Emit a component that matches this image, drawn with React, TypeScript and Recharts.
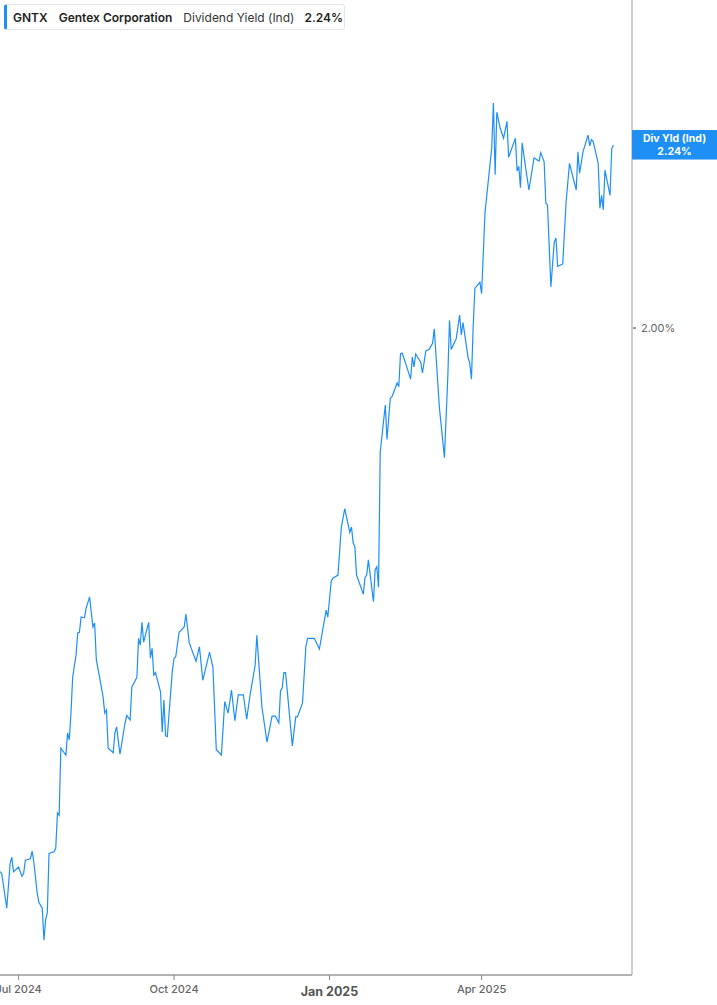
import React from "react";
import { LineChart, Line, XAxis, YAxis } from "recharts";

const DATES: string[] = [
  "2024-06-20","2024-06-21","2024-06-24","2024-06-26","2024-06-27","2024-06-28","2024-07-01","2024-07-03","2024-07-04","2024-07-05",
  "2024-07-08","2024-07-09","2024-07-10","2024-07-12","2024-07-13","2024-07-15","2024-07-16","2024-07-17","2024-07-18","2024-07-19",
  "2024-07-22","2024-07-23","2024-07-24","2024-07-25","2024-07-26","2024-07-29","2024-07-30","2024-07-31","2024-08-01","2024-08-02",
  "2024-08-04","2024-08-05","2024-08-06","2024-08-07","2024-08-09","2024-08-10","2024-08-12","2024-08-14","2024-08-15","2024-08-16",
  "2024-08-19","2024-08-20","2024-08-21","2024-08-22","2024-08-23","2024-08-26","2024-08-27","2024-08-28","2024-08-30","2024-09-02",
  "2024-09-03","2024-09-05","2024-09-06","2024-09-09","2024-09-10","2024-09-11","2024-09-12","2024-09-13","2024-09-16","2024-09-17",
  "2024-09-18","2024-09-19","2024-09-20","2024-09-23","2024-09-24","2024-09-25","2024-09-26","2024-09-27","2024-09-30","2024-10-01",
  "2024-10-02","2024-10-04","2024-10-07","2024-10-08","2024-10-10","2024-10-14","2024-10-16",
  "2024-10-18","2024-10-22","2024-10-24","2024-10-26","2024-10-29","2024-10-31","2024-11-02","2024-11-04","2024-11-06","2024-11-08","2024-11-11",
  "2024-11-13","2024-11-15","2024-11-18","2024-11-19","2024-11-22","2024-11-25","2024-11-28","2024-11-30","2024-12-02","2024-12-03",
  "2024-12-04","2024-12-05","2024-12-06","2024-12-10","2024-12-12","2024-12-13","2024-12-16","2024-12-18","2024-12-19","2024-12-23",
  "2024-12-26","2024-12-30","2024-12-31","2025-01-02","2025-01-03","2025-01-06","2025-01-08","2025-01-10","2025-01-13","2025-01-14",
  "2025-01-15","2025-01-16","2025-01-17","2025-01-21","2025-01-22","2025-01-23","2025-01-24","2025-01-27","2025-01-28","2025-01-29",
  "2025-01-30","2025-01-31","2025-02-03","2025-02-04","2025-02-06","2025-02-07","2025-02-10","2025-02-11","2025-02-12","2025-02-13",
  "2025-02-15","2025-02-18","2025-02-19","2025-02-20","2025-02-21","2025-02-24","2025-02-25","2025-02-27","2025-03-01","2025-03-03",
  "2025-03-04","2025-03-07","2025-03-10","2025-03-12","2025-03-13","2025-03-14","2025-03-17","2025-03-19","2025-03-20","2025-03-21",
  "2025-03-24","2025-03-25","2025-03-26","2025-03-27","2025-03-28","2025-03-31","2025-04-01","2025-04-03","2025-04-05","2025-04-07",
  "2025-04-08","2025-04-09","2025-04-10","2025-04-12","2025-04-14","2025-04-16","2025-04-17","2025-04-21","2025-04-22","2025-04-23",
  "2025-04-24","2025-04-25","2025-04-27","2025-04-29","2025-05-02","2025-05-05","2025-05-06","2025-05-08","2025-05-09","2025-05-10",
  "2025-05-12","2025-05-14","2025-05-15","2025-05-16","2025-05-19","2025-05-21","2025-05-23","2025-05-27","2025-05-28","2025-05-29",
  "2025-05-31","2025-06-03","2025-06-04","2025-06-05","2025-06-06","2025-06-09","2025-06-10","2025-06-11","2025-06-12","2025-06-13",
  "2025-06-16","2025-06-17","2025-06-18",
];

const YIELDS: number[] = [
  1.287,1.285,1.239,1.298,1.306,1.287,1.293,1.281,1.285,1.302,
  1.304,1.314,1.300,1.259,1.247,1.239,1.197,1.224,1.233,1.311,
  1.313,1.318,1.364,1.361,1.449,1.440,1.469,1.460,1.495,1.542,
  1.571,1.600,1.601,1.621,1.620,1.633,1.647,1.608,1.613,1.565,
  1.529,1.516,1.495,1.499,1.449,1.443,1.469,1.477,1.441,1.482,
  1.492,1.486,1.529,1.542,1.593,1.584,1.614,1.588,1.614,1.567,
  1.580,1.545,1.548,1.523,1.470,1.512,1.465,1.464,1.551,1.567,
  1.569,1.601,1.608,1.625,1.587,1.563,1.582,
  1.538,1.575,1.555,1.447,1.440,1.510,1.495,1.525,1.485,1.519,1.519,
  1.487,1.519,1.558,1.597,1.503,1.457,1.491,1.491,1.482,1.524,
  1.528,1.548,1.548,1.452,1.490,1.490,1.508,1.582,1.593,1.593,
  1.579,1.630,1.621,1.668,1.672,1.676,1.739,1.763,1.732,1.739,
  1.718,1.713,1.676,1.651,1.673,1.676,1.696,1.641,1.683,1.687,
  1.660,1.837,1.899,1.854,1.908,1.910,1.928,1.923,1.966,1.967,
  1.954,1.933,1.962,1.949,1.966,1.955,1.941,1.970,1.972,1.980,
  1.999,1.896,1.830,1.936,2.010,1.972,1.986,2.017,1.991,2.007,
  1.961,1.954,1.933,2.001,2.052,2.060,2.045,2.151,2.194,2.236,
  2.295,2.201,2.283,2.262,2.249,2.271,2.224,2.249,2.206,2.212,
  2.184,2.243,2.211,2.181,2.223,2.219,2.230,2.218,2.164,2.161,
  2.054,2.113,2.118,2.081,2.084,2.165,2.216,2.181,2.231,2.203,
  2.231,2.253,2.239,2.247,2.245,2.216,2.157,2.174,2.155,2.207,
  2.174,2.235,2.240,
];

const X_TICK_DATES: string[] = ["2024-07-01", "2024-10-01", "2025-01-01", "2025-04-01"];
const MONTHS: string[] = ["Jan","Feb","Mar","Apr","May","Jun","Jul","Aug","Sep","Oct","Nov","Dec"];
const Y_TICK_VALUES: number[] = [2.0];
const X_DOMAIN_DATES: string[] = ["2024-06-20", "2025-06-29"];
const Y_DOMAIN: number[] = [1.1515, 2.4302];

const TICKER = "GNTX";
const COMPANY = "Gentex Corporation";
const METRIC = "Dividend Yield (Ind)";
const TAG = "Div Yld (Ind)";

const BLUE = "#1e8ff5";
const FONT = "Inter, 'Noto Sans', sans-serif";

const data = DATES.map((d, i) => ({ t: Date.parse(d + "T00:00:00Z"), v: YIELDS[i] }));
const LAST = YIELDS[YIELDS.length - 1];
const xTicks = X_TICK_DATES.map((d) => Date.parse(d + "T00:00:00Z"));
const xDomain = X_DOMAIN_DATES.map((d) => Date.parse(d + "T00:00:00Z"));

const XTick = (props: any) => {
  const { x, y, payload } = props;
  const dt = new Date(payload.value);
  const isYear = dt.getUTCMonth() === 0;
  const label = `${MONTHS[dt.getUTCMonth()]} ${dt.getUTCFullYear()}`;
  return (
    <g>
      <line x1={x} x2={x} y1={y} y2={y + 5} stroke="#888" strokeWidth={1} />
      <text
        x={x}
        y={isYear ? y + 21 : y + 18}
        textAnchor="middle"
        fontFamily={FONT}
        fontSize={isYear ? 12.5 : 11}
        fontWeight={isYear ? 700 : 500}
        fill={isYear ? "#555" : "#666"}
      >
        {label}
      </text>
    </g>
  );
};

const YTick = (props: any) => {
  const { x, y, payload } = props;
  if (Math.abs(payload.value - LAST) < 1e-9) {
    return (
      <g>
        <rect x={x} y={y - 15} width={85} height={29.5} fill={BLUE} />
        <text x={x + 42.5} y={y - 3.5} textAnchor="middle" fontFamily={FONT} fontSize={10.5} fontWeight={700} fill="#fff">
          {TAG}
        </text>
        <text x={x + 42.5} y={y + 9.5} textAnchor="middle" fontFamily={FONT} fontSize={10.5} fontWeight={700} fill="#fff">
          {`${LAST.toFixed(2)}%`}
        </text>
      </g>
    );
  }
  return (
    <g>
      <line x1={x + 1} x2={x + 4} y1={y} y2={y} stroke="#777" strokeWidth={1.5} />
      <text x={x + 9} y={y + 4} fontFamily={FONT} fontSize={11} fill="#666">
        {`${payload.value.toFixed(2)}%`}
      </text>
    </g>
  );
};

export default function App() {
  return (
    <div style={{ position: "absolute", left: 0, top: 0, width: 717, height: 1005, background: "#fff" }}>
      <LineChart width={717} height={1005} data={data} margin={{ top: 0, right: 0, bottom: 0, left: 0 }}>
        <XAxis
          dataKey="t"
          type="number"
          domain={xDomain}
          allowDataOverflow
          ticks={xTicks}
          height={30}
          tickSize={0}
          tickMargin={0}
          tickLine={false}
          axisLine={{ stroke: "#b3b3b3", strokeWidth: 2 }}
          tick={<XTick />}
          interval={0}
        />
        <YAxis
          orientation="right"
          type="number"
          domain={Y_DOMAIN}
          allowDataOverflow
          ticks={[...Y_TICK_VALUES, LAST]}
          width={85}
          tickSize={0}
          tickMargin={0}
          tickLine={false}
          axisLine={{ stroke: "#a0a0a0", strokeWidth: 1 }}
          tick={<YTick />}
          interval={0}
        />
        <Line
          type="linear"
          dataKey="v"
          stroke={BLUE}
          strokeWidth={1.2}
          dot={false}
          activeDot={false}
          isAnimationActive={false}
        />
      </LineChart>
      <div
        style={{
          position: "absolute",
          left: 4,
          top: 4,
          height: 26,
          width: 341,
          boxSizing: "border-box",
          border: "1px solid #e6e6e6",
          borderLeft: `3px solid ${BLUE}`,
          borderRadius: 3,
          background: "#fff",
          display: "flex",
          alignItems: "center",
          paddingLeft: 6,
          fontFamily: FONT,
          fontSize: 12,
          color: "#1f1f1f",
          whiteSpace: "nowrap",
        }}
      >
        <span style={{ fontWeight: 600 }}>{TICKER}</span>
        <span style={{ fontWeight: 600, marginLeft: 11 }}>{COMPANY}</span>
        <span style={{ fontWeight: 400, marginLeft: 11, color: "#333" }}>{METRIC}</span>
        <span style={{ fontWeight: 600, marginLeft: 10 }}>{`${LAST.toFixed(2)}%`}</span>
      </div>
    </div>
  );
}
